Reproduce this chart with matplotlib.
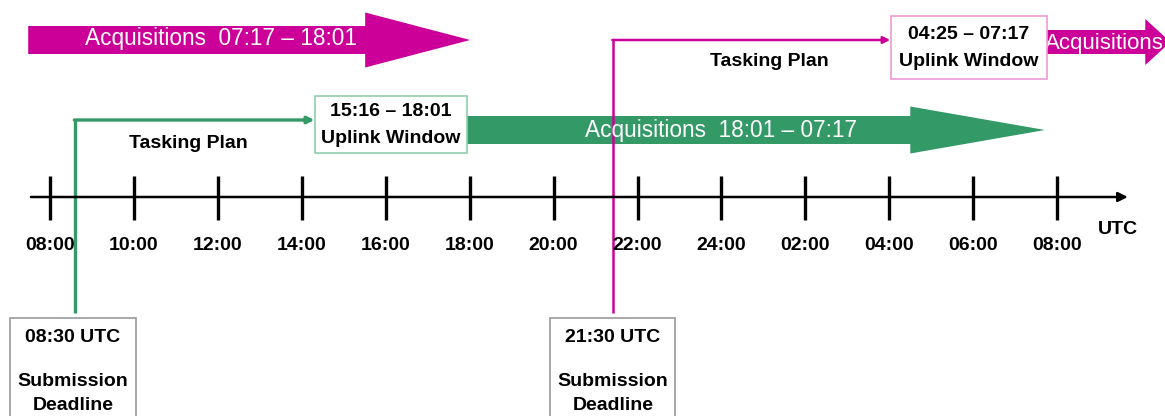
import matplotlib.pyplot as plt
from matplotlib.patches import Polygon, Rectangle

plt.rcParams['font.family'] = ['Liberation Sans', 'DejaVu Sans']

MAGENTA = '#cc0099'
GREEN = '#339966'

# time axis: hours after 08:00 on day 1
tick_hours = [0, 2, 4, 6, 8, 10, 12, 14, 16, 18, 20, 22, 24]
tick_labels = ['08:00', '10:00', '12:00', '14:00', '16:00', '18:00', '20:00',
               '22:00', '24:00', '02:00', '04:00', '06:00', '08:00']

# submission deadlines (hours) and their label boxes
deadline_hours = [0.6, 13.42]
deadline_labels = ['08:30 UTC', '21:30 UTC']
deadline_box_x = [(-0.95, 2.05), (11.92, 14.9)]

# uplink windows (box extents, hours) and texts
uplink_box_x = [(6.32, 9.94), (20.04, 23.76)]
uplink_times = ['15:16 – 18:01', '04:25 – 07:17']

# acquisition arrows: start, head base, tip (hours)
acq_spans = [(-0.52, 7.51, 10.01), (9.94, 20.5, 23.71), (23.76, 26.1, 26.7)]
acq_labels = ['Acquisitions  07:17 – 18:01', 'Acquisitions  18:01 – 07:17', 'Acquisitions']

FS = 14


def big_arrow(ax, x0, xb, xt, yc, body_h, head_h, color):
    pts = [(x0, yc - body_h / 2), (xb, yc - body_h / 2), (xb, yc - head_h / 2),
           (xt, yc), (xb, yc + head_h / 2), (xb, yc + body_h / 2), (x0, yc + body_h / 2)]
    ax.add_patch(Polygon(pts, closed=True, color=color, lw=0))


fig = plt.figure(figsize=(11.65, 4.16), dpi=100)
ax = fig.add_axes([0, 0, 1, 1])
ax.set_xlim(-1.192, 26.57)
ax.set_ylim(416, 0)
ax.axis('off')

# time axis
ax.annotate('', xy=(25.75, 197), xytext=(-0.52, 197),
            arrowprops=dict(arrowstyle='-|>', color='black', lw=1.8, mutation_scale=14))
for h, lab in zip(tick_hours, tick_labels):
    ax.plot([h, h], [176, 220], color='black', lw=2.4, solid_capstyle='butt')
    ax.text(h, 246, lab, ha='center', va='center', fontsize=FS, fontweight='bold')
ax.text(25.45, 229, 'UTC', ha='center', va='center', fontsize=FS, fontweight='bold')

# acquisitions arrows
big_arrow(ax, *acq_spans[0], 40, 28, 55, MAGENTA)
big_arrow(ax, *acq_spans[1], 130, 28, 47, GREEN)
big_arrow(ax, *acq_spans[2], 42, 24, 46, MAGENTA)
ax.text(acq_spans[0][0] + 1.35, 39, acq_labels[0], color='white', fontsize=16.3, ha='left', va='center')
ax.text(acq_spans[1][0] + 2.8, 131, acq_labels[1], color='white', fontsize=16.3, ha='left', va='center')
ax.text(acq_spans[2][0] - 0.05, 43, acq_labels[2], color='white', fontsize=16, ha='left', va='center')

# tasking plan paths
path_y = [120, 40]
path_colors = [GREEN, MAGENTA]
path_lw = [2.4, 1.8]
for dh, py, box, col, lw in zip(deadline_hours, path_y, uplink_box_x, path_colors, path_lw):
    ax.plot([dh, dh], [313, py], color=col, lw=lw, solid_capstyle='butt')
    ax.annotate('', xy=(box[0] - 0.02, py), xytext=(dh - 0.02, py),
                arrowprops=dict(arrowstyle='-|>', color=col, lw=lw, mutation_scale=10,
                                shrinkA=0, shrinkB=0))
ax.text(3.3, 143, 'Tasking Plan', ha='center', va='center', fontsize=FS, fontweight='bold')
ax.text(17.15, 62, 'Tasking Plan', ha='center', va='center', fontsize=FS, fontweight='bold')

# uplink window boxes
uplink_y = [(96, 153), (16, 79)]
uplink_edge = ['#8fcfaa', '#ee99d4']
for (bx0, bx1), (by0, by1), ec, lab in zip(uplink_box_x, uplink_y, uplink_edge, uplink_times):
    ax.add_patch(Rectangle((bx0, by0), bx1 - bx0, by1 - by0, facecolor='white',
                           edgecolor=ec, lw=1.2, zorder=3))
    xc, yc = (bx0 + bx1) / 2, (by0 + by1) / 2
    ax.text(xc, yc - 13, lab, ha='center', va='center', fontsize=FS, fontweight='bold', zorder=4)
    ax.text(xc, yc + 14, 'Uplink Window', ha='center', va='center', fontsize=FS,
            fontweight='bold', zorder=4)

# submission deadline boxes
for (bx0, bx1), lab in zip(deadline_box_x, deadline_labels):
    ax.add_patch(Rectangle((bx0, 318), bx1 - bx0, 110, facecolor='white',
                           edgecolor='#999999', lw=1.2, zorder=3))
    xc = (bx0 + bx1) / 2
    ax.text(xc, 338, lab, ha='center', va='center', fontsize=FS, fontweight='bold', zorder=4)
    ax.text(xc, 381, 'Submission', ha='center', va='center', fontsize=FS, fontweight='bold', zorder=4)
    ax.text(xc, 405, 'Deadline', ha='center', va='center', fontsize=FS, fontweight='bold', zorder=4)

fig.savefig('out.png', dpi=100)
